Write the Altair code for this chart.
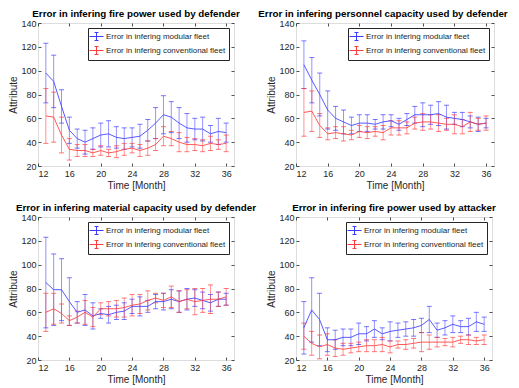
import altair as alt
import pandas as pd

months = list(range(13, 37))
series_names = ["Error in infering modular fleet", "Error in infering conventional fleet"]
panel_titles = [
    "Error in infering fire power used by defender",
    "Error in infering personnel capacity used by defender",
    "Error in infering material capacity used by defender",
    "Error in infering fire power used by attacker",
]

# Panel 1: fire power, defender
p1_mod_mean = [98, 91, 70, 50, 43, 40, 43, 46, 47, 44, 43, 44, 45, 50, 56, 63, 61, 56, 52, 51, 51, 47, 49, 48]
p1_mod_err = [25, 22, 14, 11, 8, 10, 9, 10, 11, 9, 9, 8, 10, 9, 13, 16, 13, 13, 12, 9, 10, 7, 11, 8]
p1_con_mean = [62, 61, 46, 34, 33, 33, 31, 33, 31, 32, 34, 35, 33, 35, 38, 45, 43, 40, 38, 38, 37, 39, 38, 39]
p1_con_err = [23, 21, 15, 9, 5, 5, 3, 4, 3, 5, 5, 4, 5, 6, 5, 8, 6, 8, 6, 5, 5, 6, 4, 7]

# Panel 2: personnel capacity, defender
p2_mod_mean = [105, 92, 80, 67, 60, 57, 54, 56, 56, 55, 57, 58, 55, 59, 63, 63, 63, 64, 61, 60, 59, 57, 55, 56]
p2_mod_err = [20, 19, 18, 16, 10, 10, 7, 7, 7, 4, 6, 5, 5, 5, 7, 10, 8, 10, 10, 5, 6, 5, 6, 4]
p2_con_mean = [65, 66, 54, 47, 48, 47, 46, 49, 48, 49, 48, 52, 52, 52, 56, 57, 57, 56, 55, 55, 53, 57, 55, 56]
p2_con_err = [20, 17, 10, 5, 5, 6, 4, 5, 5, 4, 6, 6, 6, 5, 5, 7, 6, 7, 5, 8, 6, 8, 5, 6]

# Panel 3: material capacity, defender
p3_mod_mean = [85, 79, 79, 69, 60, 62, 57, 59, 58, 60, 61, 65, 65, 65, 69, 69, 71, 69, 71, 72, 70, 68, 71, 71]
p3_mod_err = [38, 30, 26, 20, 9, 13, 11, 4, 7, 6, 7, 6, 8, 5, 6, 7, 8, 9, 9, 7, 7, 7, 6, 5]
p3_con_mean = [60, 63, 59, 53, 56, 60, 56, 63, 63, 63, 64, 66, 67, 70, 72, 70, 73, 69, 71, 69, 70, 71, 71, 73]
p3_con_err = [16, 13, 8, 4, 5, 10, 8, 5, 6, 7, 8, 9, 8, 8, 4, 6, 9, 9, 8, 11, 10, 12, 6, 7]

# Panel 4: fire power, attacker
p4_mod_mean = [47, 62, 54, 37, 37, 39, 39, 42, 42, 46, 42, 44, 45, 46, 47, 49, 54, 45, 47, 50, 48, 48, 52, 50]
p4_mod_err = [22, 27, 22, 10, 8, 7, 7, 9, 6, 7, 5, 8, 6, 6, 7, 6, 11, 6, 6, 7, 5, 7, 8, 6]
p4_con_mean = [40, 34, 31, 33, 30, 29, 30, 31, 32, 32, 33, 31, 33, 33, 34, 35, 35, 35, 35, 35, 37, 37, 36, 37]
p4_con_err = [11, 10, 10, 9, 7, 5, 4, 4, 5, 5, 6, 5, 3, 4, 4, 8, 6, 4, 3, 4, 3, 4, 3, 4]

x_ticks = [12, 16, 20, 24, 28, 32, 36]
y_ticks = [20, 40, 60, 80, 100, 120, 140]

BLUE = "#3d3dff"
RED = "#ff3d3d"
FONT = "Liberation Sans"
TXT = "#262626"

SYMBOL = "M-1.4,0H1.4M0,-0.8V0.8M-0.4,-0.8H0.4M-0.4,0.8H0.4"


def frame(mod_mean, mod_err, con_mean, con_err):
    rows = []
    for name, means, errs in [(series_names[0], mod_mean, mod_err), (series_names[1], con_mean, con_err)]:
        for m, v, e in zip(months, means, errs):
            rows.append({"month": m, "series": name, "mean": v, "lo": v - e, "hi": v + e})
    return pd.DataFrame(rows)


def axis_main(vals, title, lpad):
    return alt.Axis(values=vals, tickCount=20, title=title, grid=False, domain=False,
                    ticks=True, tickSize=3, tickColor=TXT, tickWidth=0.8, offset=-3,
                    labelOverlap=False, labelFontSize=9, labelFont=FONT, labelColor=TXT, labelPadding=lpad,
                    titleFontSize=10, titleFont=FONT, titleColor=TXT, titleFontWeight="normal", titlePadding=2)


def axis_box(vals, orient):
    return alt.Axis(values=vals, tickCount=20, orient=orient, title=None, labels=False, grid=False,
                    domain=False, ticks=True, tickSize=3, tickColor=TXT, tickWidth=0.8, offset=-3)


def panel(title, mod_mean, mod_err, con_mean, con_err, w, h, dx=0):
    df = frame(mod_mean, mod_err, con_mean, con_err)
    xs = alt.Scale(domain=[12, 37], nice=False, zero=False)
    ys = alt.Scale(domain=[20, 140], nice=False, zero=False)
    color = alt.Color("series:N", title=None,
                      scale=alt.Scale(domain=series_names, range=[BLUE, RED]),
                      legend=alt.Legend(orient="top-right", offset=5, symbolType=SYMBOL, symbolSize=100,
                                        symbolStrokeWidth=1, symbolOpacity=1, symbolOffset=0, labelOffset=4,
                                        labelFontSize=8, labelFont=FONT, labelColor=TXT, labelLimit=300,
                                        padding=3, rowPadding=1, strokeColor=TXT, fillColor="white"))
    base = alt.Chart(df)
    rule = base.mark_rule(strokeWidth=1, opacity=0.55).encode(
        x=alt.X("month:Q", scale=xs, axis=axis_main(x_ticks, "Time [Month]", 3)),
        y=alt.Y("lo:Q", scale=ys, axis=axis_main(y_ticks, "Attribute", 2)), y2="hi:Q",
        color=color)
    cap_lo = base.mark_tick(orient="horizontal", size=5, thickness=1, opacity=0.7).encode(
        x=alt.X("month:Q", axis=None), y=alt.Y("lo:Q", axis=None), color=color)
    cap_hi = base.mark_tick(orient="horizontal", size=5, thickness=1, opacity=0.7).encode(
        x=alt.X("month:Q", axis=None), y=alt.Y("hi:Q", axis=None), color=color)
    line = base.mark_line(strokeWidth=1, opacity=0.85).encode(
        x=alt.X("month:Q", axis=axis_box(x_ticks, "top")),
        y=alt.Y("mean:Q", axis=axis_box(y_ticks, "right")), color=color, order="month:Q")
    return alt.layer(rule, cap_lo, cap_hi, line).resolve_axis(x="independent", y="independent").properties(
        width=w, height=h,
        title=alt.TitleParams(title, fontSize=9.8, fontWeight="bold", font=FONT, color="black",
                              offset=0, anchor="middle", dx=dx))


p1 = panel(panel_titles[0], p1_mod_mean, p1_mod_err, p1_con_mean, p1_con_err, 196, 143)
p2 = panel(panel_titles[1], p2_mod_mean, p2_mod_err, p2_con_mean, p2_con_err, 198, 143, dx=-12)
p3 = panel(panel_titles[2], p3_mod_mean, p3_mod_err, p3_con_mean, p3_con_err, 196, 143)
p4 = panel(panel_titles[3], p4_mod_mean, p4_mod_err, p4_con_mean, p4_con_err, 196, 143)

chart = alt.concat(p1, p2, p3, p4, columns=2, spacing=alt.RowColnumber(row=51, column=62)).properties(
    bounds="flush", padding=0
).resolve_legend(color="independent").resolve_scale(color="independent").configure_view(
    stroke=TXT, strokeWidth=0.8
).configure(background="white")

chart.save("out.html", embed_options={"renderer": "svg", "actions": False})
